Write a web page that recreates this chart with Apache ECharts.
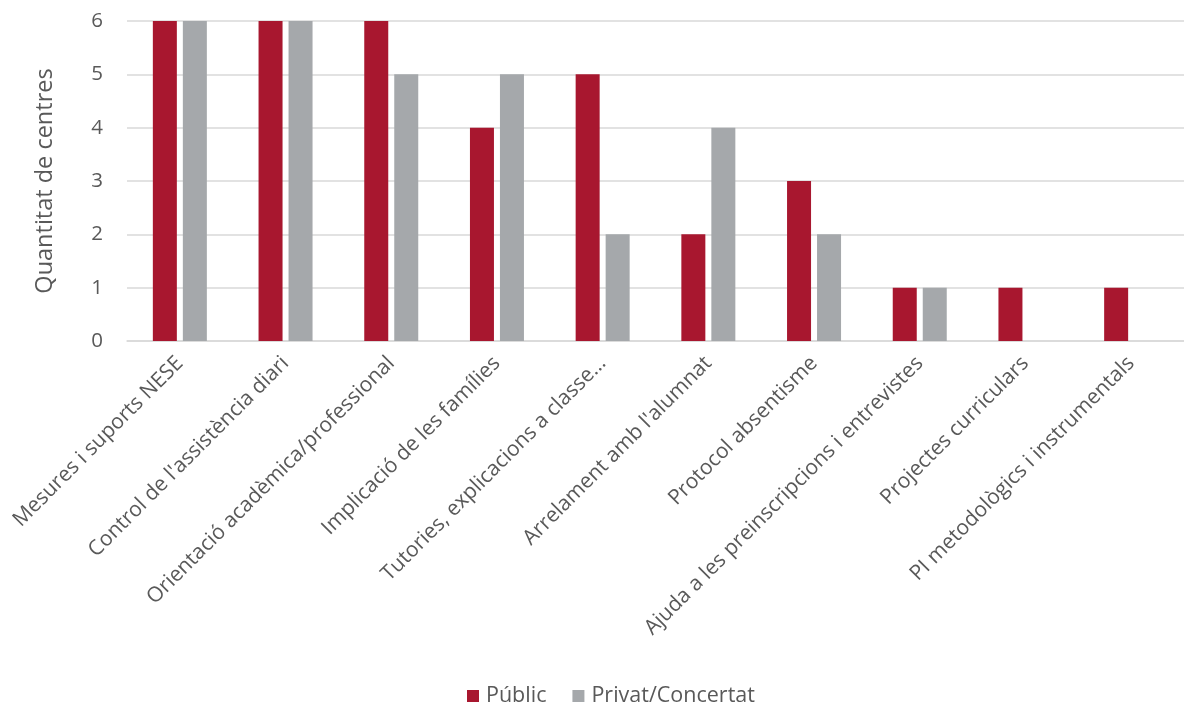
<!DOCTYPE html>
<html>
<head>
<meta charset="utf-8">
<script src="https://cdn.jsdelivr.net/npm/echarts@6/dist/echarts.min.js"></script>
<style>html,body{margin:0;padding:0;background:#fff}#c{width:1184px;height:704px}</style>
</head>
<body>
<div id="c"></div>
<script>
const categories = [
  "Mesures i suports NESE",
  "Control de l'assistència diari",
  "Orientació acadèmica/professional",
  "Implicació de les famílies",
  "Tutories, explicacions a classe…",
  "Arrelament amb l'alumnat",
  "Protocol absentisme",
  "Ajuda a les preinscripcions i entrevistes",
  "Projectes curriculars",
  "PI metodològics i instrumentals"
];
const publicValues = [6, 6, 6, 4, 5, 2, 3, 1, 1, 1];
const privatValues = [6, 6, 5, 5, 2, 4, 2, 1, 0, 0];
const seriesNames = ["Públic", "Privat/Concertat"];
const yAxisTitle = "Quantitat de centres";

const font = "'Open Sans', 'Noto Sans', sans-serif";
const chart = echarts.init(document.getElementById('c'), null, {renderer: 'canvas'});
chart.setOption({
  animation: false,
  textStyle: {fontFamily: font},
  grid: {left: 127, width: 1060, top: 21, bottom: 363, containLabel: false},
  legend: {
    left: 462, top: 680,
    itemWidth: 12, itemHeight: 12, itemGap: 26,
    icon: 'rect',
    textStyle: {fontSize: 21.5, color: '#595959', fontFamily: font, padding: [0, 0, 0, 2]},
    data: seriesNames
  },
  xAxis: {
    type: 'category',
    data: categories,
    axisLine: {show: true, lineStyle: {color: '#D9D9D9', width: 1.5}},
    axisTick: {show: false},
    axisLabel: {rotate: 45, interval: 0, fontSize: 21, color: '#595959', margin: 19, fontFamily: font}
  },
  yAxis: {
    type: 'value',
    min: 0, max: 6, interval: 1,
    name: yAxisTitle,
    nameLocation: 'middle',
    nameGap: 70,
    nameRotate: 90,
    nameTextStyle: {fontSize: 23.5, color: '#595959', fontFamily: font},
    axisLine: {show: false},
    axisTick: {show: false},
    axisLabel: {fontSize: 20.5, color: '#595959', margin: 24, fontFamily: font},
    splitLine: {lineStyle: {color: '#D9D9D9', width: 1.5}}
  },
  series: [
    {name: seriesNames[0], type: 'bar', data: publicValues, barWidth: 24, barGap: '25%',
     itemStyle: {color: '#A8172F'}},
    {name: seriesNames[1], type: 'bar', data: privatValues, barWidth: 24,
     itemStyle: {color: '#A5A8AB'}}
  ]
});
</script>
</body>
</html>
